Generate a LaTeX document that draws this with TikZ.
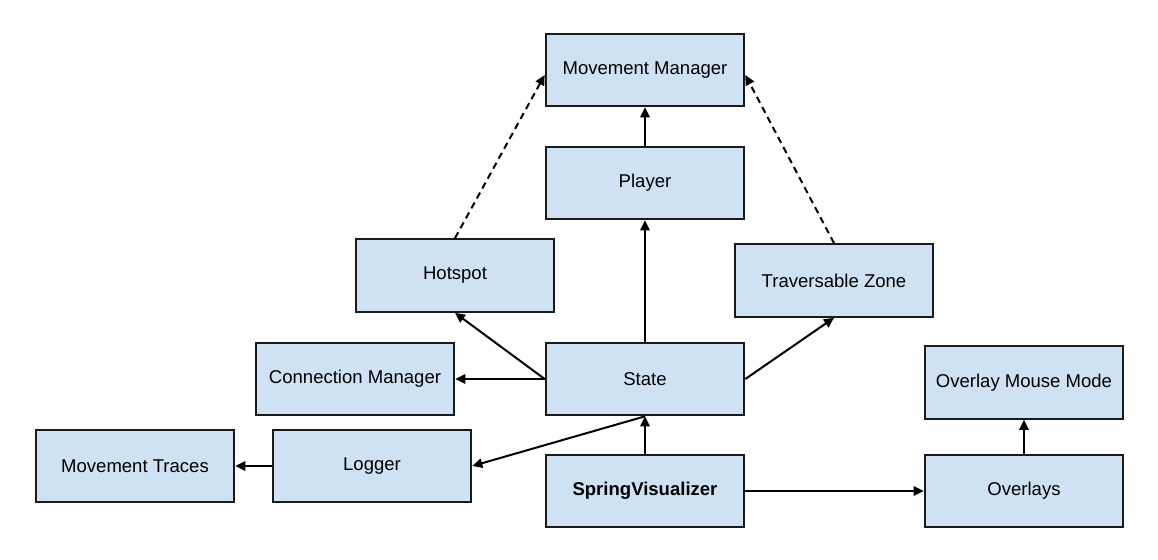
\documentclass[tikz,border=0pt]{standalone}
\usepackage{fontspec}
\setmainfont{Liberation Sans}
\usetikzlibrary{arrows.meta}
\definecolor{boxfill}{HTML}{CFE2F3}
\definecolor{boxline}{HTML}{1A1A1A}
\tikzset{
  box/.style={draw=boxline, fill=boxfill, line width=1.5pt, rectangle,
    minimum width=149pt, minimum height=54.5pt, inner sep=0pt,
    font=\fontsize{13.9}{16}\selectfont},
  conn/.style={draw=black, line width=1.5pt, -{Triangle[length=7.5pt,width=7pt]}},
  dconn/.style={conn, dash pattern=on 5pt off 3.5pt}
}
\begin{document}
\begin{tikzpicture}[x=0.75pt,y=-0.75pt]
\useasboundingbox (0,0) rectangle (1158,560);
\node[box] (mm) at (645,70) {Movement Manager};
\node[box] (pl) at (645,183) {Player};
\node[box] (hs) at (455,275.5) {Hotspot};
\node[box] (tz) at (834,280.5) {Traversable Zone};
\node[box] (cm) at (355,379) {Connection Manager};
\node[box] (st) at (645,379) {State};
\node[box] (omm) at (1024,382.5) {Overlay Mouse Mode};
\node[box] (mt) at (135,466) {Movement Traces};
\node[box] (lg) at (372,466) {Logger};
\node[box] (sv) at (645,491) {\bfseries SpringVisualizer};
\node[box] (ov) at (1024,491) {Overlays};

\draw[conn] (pl.north) -- (mm.south);
\draw[conn] (st.north) -- (pl.south);
\draw[conn] (st.west) -- (hs.south);
\draw[conn] (st.west) -- (cm.east);
\draw[conn] (st.east) -- (tz.south);
\draw[conn] (st.south) -- (lg.east);
\draw[conn] (sv.north) -- (st.south);
\draw[conn] (lg.west) -- (mt.east);
\draw[conn] (sv.east) -- (ov.west);
\draw[conn] (ov.north) -- (omm.south);
\draw[dconn] (hs.north) -- ([yshift=-3.75pt]mm.west);
\draw[dconn] (tz.north) -- ([yshift=-3.75pt]mm.east);
\end{tikzpicture}
\end{document}
